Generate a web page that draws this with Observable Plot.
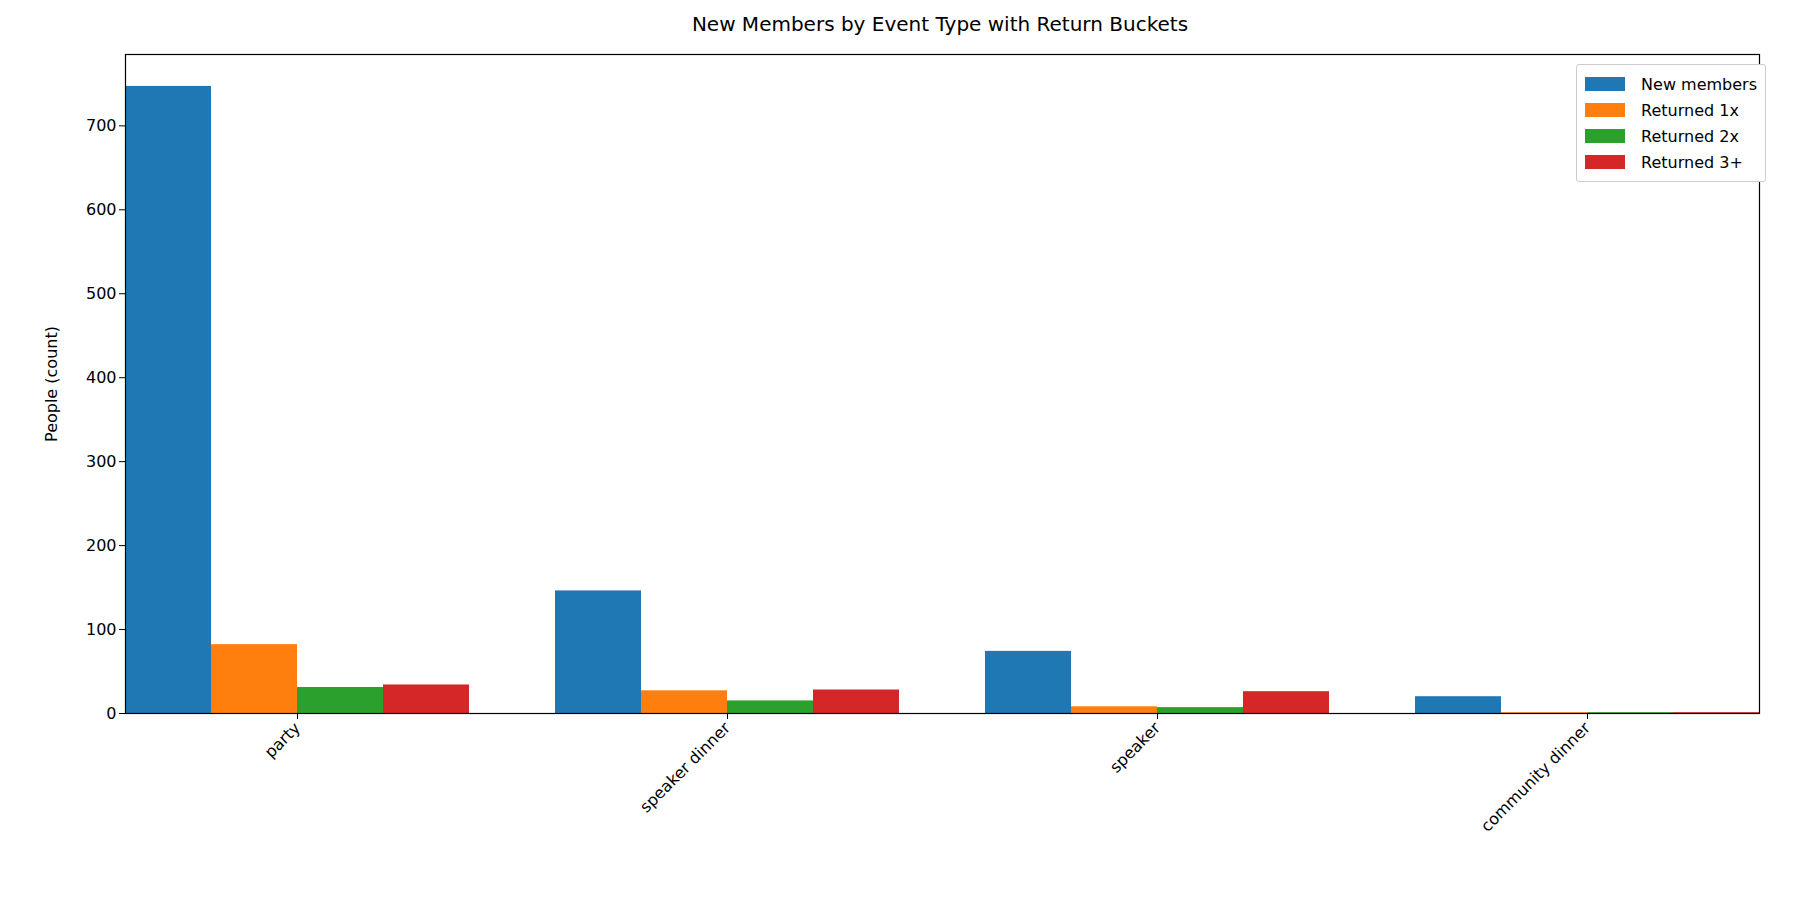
<!DOCTYPE html>
<html>
<head>
<meta charset="utf-8">
<script src="https://cdn.jsdelivr.net/npm/d3@7"></script>
<script src="https://cdn.jsdelivr.net/npm/@observablehq/plot@0.6"></script>
<style>
  html, body { margin: 0; background: #fff; font-family: "DejaVu Sans", sans-serif; overflow: hidden; }
  #wrap { position: relative; width: 1800px; height: 900px; }
  #title { height: 40px; line-height: 48px; text-align: center; font-size: 20px; padding-left: 80px; }
  #chart svg { display: block; max-width: none !important; }
  #legend { position: absolute; top: 64px; right: 34px; border: 1px solid #ccc; border-radius: 3px;
    background: #fff; padding: 6px 8px; font-size: 16px; }
  #legend div { display: flex; align-items: center; height: 26px; }
  #legend span.sw { width: 40px; height: 14px; margin-right: 16px; display: inline-block; }
</style>
</head>
<body>
<div id="wrap">
  <div id="title">New Members by Event Type with Return Buckets</div>
  <div id="chart"></div>
  <div id="legend"></div>
</div>
<script>
const events = ["party", "speaker dinner", "speaker", "community dinner"]
const series = ["New members", "Returned 1x", "Returned 2x", "Returned 3+"]
const colors = ["#1f77b4", "#ff7f0e", "#2ca02c", "#d62728"]
const newMembers = [747, 146, 74, 20]
const returned1 = [82, 27, 8, 1]
const returned2 = [31, 15, 7, 1]
const returned3 = [34, 28, 26, 1]

const cols = [newMembers, returned1, returned2, returned3]
const data = []
events.forEach((e, i) => series.forEach((s, j) => data.push({event: e, series: s, value: cols[j][i]})))

let chart = Plot.plot({
  width: 1800,
  height: 860,
  marginLeft: 106,
  marginRight: 23,
  marginTop: 14,
  marginBottom: 187,
  style: {fontSize: "16px", fontFamily: "DejaVu Sans, sans-serif", color: "#000"},
  fx: {domain: events, paddingInner: 0.2, paddingOuter: 0.04, align: 0.5, label: null},
  x: {domain: series, padding: 0, axis: null},
  y: {domain: [0, 785], label: null},
  color: {domain: series, range: colors},
  marks: [
    Plot.barY(data, {fx: "event", x: "series", y: "value", fill: "series"}),
    Plot.frame({stroke: "#000", strokeWidth: 1.2, facet: "super"}),
    Plot.axisFx({anchor: "bottom", tickRotate: -45, textAnchor: "end", fontSize: 16, tickSize: 6, label: null}),
    Plot.axisY({ticks: d3.range(0, 701, 100), tickSize: 6, fontSize: 16, label: "People (count)", labelAnchor: "center", labelArrow: "none", labelOffset: 80})
  ]
})
document.getElementById("chart").append(chart)

const lg = document.getElementById("legend")
series.forEach((s, i) => {
  const row = document.createElement("div")
  row.innerHTML = `<span class="sw" style="background:${colors[i]}"></span>${s}`
  lg.append(row)
})
</script>
</body>
</html>
